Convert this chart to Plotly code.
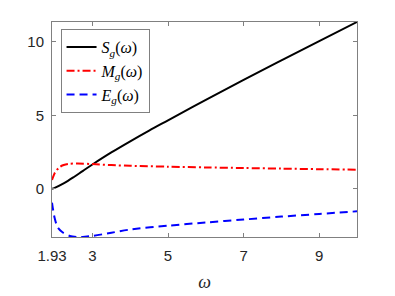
import plotly.graph_objects as go

# Data
omega_S = [1.93, 2.0, 2.25, 2.5, 2.75, 3.0, 3.5, 4.0, 4.5, 5.0, 6.0, 7.0, 8.0, 9.0, 10.0]
S_vals = [0.0, 0.06, 0.38, 0.78, 1.22, 1.65, 2.47, 3.23, 3.96, 4.66, 6.05, 7.42, 8.75, 10.06, 11.36]

omega_M = [1.93, 2.0, 2.1, 2.2, 2.35, 2.6, 3.0, 3.5, 4.0, 5.0, 6.0, 7.0, 8.0, 9.0, 10.0]
M_vals = [0.6, 1.05, 1.4, 1.58, 1.68, 1.72, 1.68, 1.61, 1.56, 1.5, 1.45, 1.41, 1.37, 1.33, 1.3]

omega_E = [1.93, 1.95, 2.0, 2.05, 2.1, 2.2, 2.4, 2.6, 2.8, 3.0, 3.5, 4.0, 5.0, 6.0, 7.0, 8.0, 9.0, 10.0]
E_vals = [-0.95, -1.3, -2.0, -2.45, -2.7, -2.95, -3.22, -3.29, -3.27, -3.22, -3.0, -2.78, -2.52, -2.3, -2.1, -1.9, -1.72, -1.54]

x_tickvals = [1.93, 3, 5, 7, 9]
x_ticktext = ["1.93", "3", "5", "7", "9"]
y_tickvals = [0, 5, 10]

fig = go.Figure()
fig.add_trace(go.Scatter(x=omega_S, y=S_vals, mode="lines",
                         line=dict(color="black", width=2, shape="spline", smoothing=1.0),
                         name="<i>S</i><sub><i>g</i></sub>(<i>ω</i>)"))
fig.add_trace(go.Scatter(x=omega_M, y=M_vals, mode="lines",
                         line=dict(color="red", width=2, dash="8px,3px,2px,3px", shape="spline", smoothing=0.8),
                         name="<i>M</i><sub><i>g</i></sub>(<i>ω</i>)"))
fig.add_trace(go.Scatter(x=omega_E, y=E_vals, mode="lines",
                         line=dict(color="blue", width=2, dash="8px,5px", shape="spline", smoothing=0.8),
                         name="<i>E</i><sub><i>g</i></sub>(<i>ω</i>)"))

axis_common = dict(showline=True, linecolor="#808080", linewidth=1, mirror="ticks",
                   ticks="inside", ticklen=4, tickcolor="#808080", showgrid=False, automargin=False,
                   zeroline=False, tickfont=dict(family="Liberation Sans, Arial", size=15, color="#262626"))

fig.update_xaxes(range=[1.93, 10], tickvals=x_tickvals, ticktext=x_ticktext, ticklabelstandoff=5,
                 title=dict(text="<i>ω</i>", font=dict(family="Liberation Serif, serif", size=18, color="#262626"), standoff=12),
                 **axis_common)
fig.update_yaxes(range=[-3.29, 11.36], tickvals=y_tickvals, ticklabelstandoff=4, **axis_common)

fig.update_layout(
    width=387, height=288,
    margin=dict(l=44, r=38, t=14, b=59),
    paper_bgcolor="white", plot_bgcolor="white",
    showlegend=True,
    legend=dict(x=0.028, y=0.967, xanchor="left", yanchor="top",
                bgcolor="white", bordercolor="#808080", borderwidth=1,
                font=dict(family="Liberation Serif, serif", size=16, color="black"),
                tracegroupgap=0, itemwidth=30),
)

fig.write_html("out.html")
